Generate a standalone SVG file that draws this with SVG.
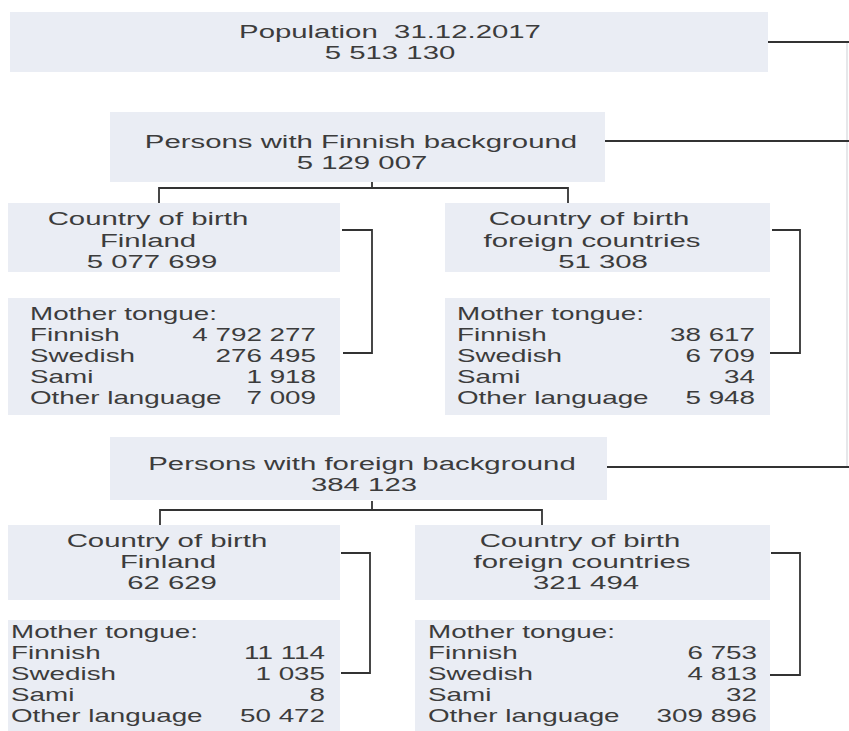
<svg xmlns="http://www.w3.org/2000/svg" width="849" height="731" viewBox="0 0 849 731">
<style>
.box{fill:#eaedf4}
text{font-family:"Liberation Sans",Arial,sans-serif;font-size:18px;fill:#3c3c3c}
.h{font-size:19px}
.c{text-anchor:middle}
.r{text-anchor:end}
.pre{white-space:pre}
.ln{fill:none;stroke:#333;stroke-width:1.8}
.faint{fill:none;stroke:#d6d8dc;stroke-width:1.2}
</style>
<rect width="849" height="731" fill="#ffffff"/>
<g id="connectors">
<path class="faint" d="M847 42 V467"/>
<path class="ln" d="M768 42 H849"/>
<path class="ln" d="M605 141 H849"/>
<path class="ln" d="M607 467 H849"/>
<path class="ln" d="M372 179 V188 M159 203 V188 H568 V203"/>
<path class="ln" d="M372 501 V510 M160 525 V510 H542 V525"/>
<path class="ln" d="M342 230 H372 V353 H343"/>
<path class="ln" d="M772 230 H800 V353 H770"/>
<path class="ln" d="M341 553 H370 V673 H341"/>
<path class="ln" d="M771 553 H800 V675 H770"/>
</g>
<g id="population">
<rect class="box" x="10" y="12" width="758" height="60"/>
<text class="h c pre" transform="translate(390 38) scale(1.545 1)">Population  31.12.2017</text>
<text class="h c" transform="translate(390 59) scale(1.545 1)">5 513 130</text>
</g>
<g id="finnish-background">
<rect class="box" x="110" y="112" width="495" height="70"/>
<text class="h c" transform="translate(361 148) scale(1.545 1)">Persons with Finnish background</text>
<text class="h c" transform="translate(362 169) scale(1.545 1)">5 129 007</text>
</g>
<g id="fin-born-finland">
<rect class="box" x="8" y="203" width="332" height="69"/>
<text class="h c" transform="translate(148 225) scale(1.545 1)">Country of birth</text>
<text class="h c" transform="translate(148 247) scale(1.545 1)">Finland</text>
<text class="h c" transform="translate(152 268) scale(1.545 1)">5 077 699</text>
</g>
<g id="fin-born-finland-tongue">
<rect class="box" x="8" y="298" width="332" height="117"/>
<text transform="translate(30 320) scale(1.545 1)">Mother tongue:</text>
<text transform="translate(30 341) scale(1.545 1)">Finnish</text>
<text transform="translate(30 362) scale(1.545 1)">Swedish</text>
<text transform="translate(30 383) scale(1.545 1)">Sami</text>
<text transform="translate(30 404) scale(1.545 1)">Other language</text>
<text class="r" transform="translate(316 341) scale(1.545 1)">4 792 277</text>
<text class="r" transform="translate(316 362) scale(1.545 1)">276 495</text>
<text class="r" transform="translate(316 383) scale(1.545 1)">1 918</text>
<text class="r" transform="translate(316 404) scale(1.545 1)">7 009</text>
</g>
<g id="fin-born-foreign">
<rect class="box" x="445" y="203" width="325" height="69"/>
<text class="h c" transform="translate(589 225) scale(1.545 1)">Country of birth</text>
<text class="h c" transform="translate(592 247) scale(1.545 1)">foreign countries</text>
<text class="h c" transform="translate(603 268) scale(1.545 1)">51 308</text>
</g>
<g id="fin-born-foreign-tongue">
<rect class="box" x="445" y="298" width="325" height="117"/>
<text transform="translate(457 320) scale(1.545 1)">Mother tongue:</text>
<text transform="translate(457 341) scale(1.545 1)">Finnish</text>
<text transform="translate(457 362) scale(1.545 1)">Swedish</text>
<text transform="translate(457 383) scale(1.545 1)">Sami</text>
<text transform="translate(457 404) scale(1.545 1)">Other language</text>
<text class="r" transform="translate(755 341) scale(1.545 1)">38 617</text>
<text class="r" transform="translate(755 362) scale(1.545 1)">6 709</text>
<text class="r" transform="translate(755 383) scale(1.545 1)">34</text>
<text class="r" transform="translate(755 404) scale(1.545 1)">5 948</text>
</g>
<g id="foreign-background">
<rect class="box" x="110" y="437" width="497" height="63"/>
<text class="h c" transform="translate(362 470) scale(1.545 1)">Persons with foreign background</text>
<text class="h c" transform="translate(364 491) scale(1.545 1)">384 123</text>
</g>
<g id="for-born-finland">
<rect class="box" x="8" y="525" width="332" height="75"/>
<text class="h c" transform="translate(167 547) scale(1.545 1)">Country of birth</text>
<text class="h c" transform="translate(168 568) scale(1.545 1)">Finland</text>
<text class="h c" transform="translate(172 589) scale(1.545 1)">62 629</text>
</g>
<g id="for-born-finland-tongue">
<rect class="box" x="8" y="620" width="332" height="111"/>
<text transform="translate(11 638) scale(1.545 1)">Mother tongue:</text>
<text transform="translate(11 659) scale(1.545 1)">Finnish</text>
<text transform="translate(11 680) scale(1.545 1)">Swedish</text>
<text transform="translate(11 701) scale(1.545 1)">Sami</text>
<text transform="translate(11 722) scale(1.545 1)">Other language</text>
<text class="r" transform="translate(325 659) scale(1.545 1)">11 114</text>
<text class="r" transform="translate(325 680) scale(1.545 1)">1 035</text>
<text class="r" transform="translate(325 701) scale(1.545 1)">8</text>
<text class="r" transform="translate(325 722) scale(1.545 1)">50 472</text>
</g>
<g id="for-born-foreign">
<rect class="box" x="415" y="525" width="355" height="75"/>
<text class="h c" transform="translate(580 547) scale(1.545 1)">Country of birth</text>
<text class="h c" transform="translate(582 568) scale(1.545 1)">foreign countries</text>
<text class="h c" transform="translate(586 589) scale(1.545 1)">321 494</text>
</g>
<g id="for-born-foreign-tongue">
<rect class="box" x="415" y="620" width="355" height="111"/>
<text transform="translate(428 638) scale(1.545 1)">Mother tongue:</text>
<text transform="translate(428 659) scale(1.545 1)">Finnish</text>
<text transform="translate(428 680) scale(1.545 1)">Swedish</text>
<text transform="translate(428 701) scale(1.545 1)">Sami</text>
<text transform="translate(428 722) scale(1.545 1)">Other language</text>
<text class="r" transform="translate(757 659) scale(1.545 1)">6 753</text>
<text class="r" transform="translate(757 680) scale(1.545 1)">4 813</text>
<text class="r" transform="translate(757 701) scale(1.545 1)">32</text>
<text class="r" transform="translate(757 722) scale(1.545 1)">309 896</text>
</g>
</svg>
